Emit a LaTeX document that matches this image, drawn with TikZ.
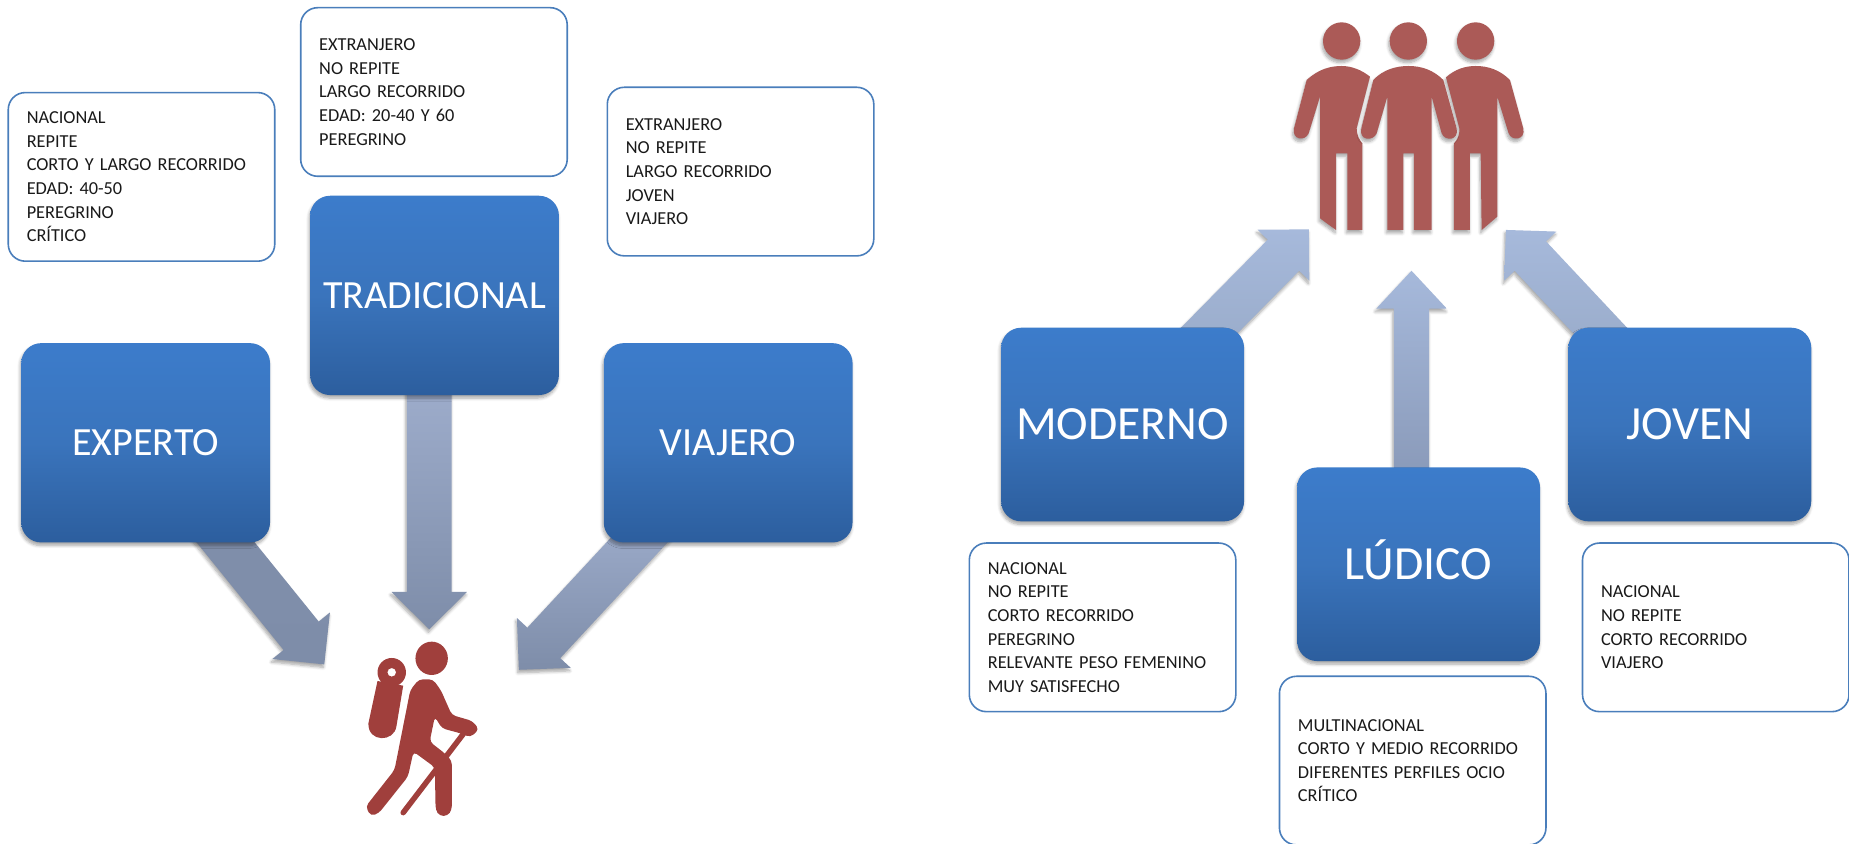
\documentclass[tikz,border=0pt]{standalone}
\usepackage{fontspec}
\setmainfont{Carlito}
\usetikzlibrary{calc,shadows.blur}
\definecolor{bluetop}{HTML}{3C7CCB}
\definecolor{bluemid}{HTML}{3A74BC}
\definecolor{bluebot}{HTML}{2C5E9E}
\definecolor{edgeblue}{HTML}{4A7EBB}
\definecolor{hikerred}{HTML}{A03F3C}
\definecolor{groupred}{HTML}{AB5A57}
\definecolor{slateA}{HTML}{808FAB}
\definecolor{slateB}{HTML}{7E8DA9}
\definecolor{slateC}{HTML}{A0AFCE}
\definecolor{paleA}{HTML}{A6B9DB}
\definecolor{paleB}{HTML}{98AAC8}
\definecolor{paleC}{HTML}{8797B6}
\tikzset{
  softshadow/.style={blur shadow={shadow xshift=-1pt,shadow yshift=-3pt,shadow blur steps=6,shadow blur radius=3pt,shadow opacity=35}},
  bluebox/.style={rounded corners=20pt,top color=bluetop,bottom color=bluebot,middle color=bluemid,text=white,align=center,softshadow,inner sep=0pt,text depth=0pt,font=\fontsize{#1}{#1}\selectfont},
  leftblue/.style={bluebox=40,text height=25.8pt,minimum width=248.8pt,minimum height=199.3pt},
  rightblue/.style={bluebox=47.6,text height=30.6pt,minimum width=242.9pt,minimum height=193.6pt},
  infobox/.style={draw=edgeblue,line width=1.6pt,fill=white,rounded corners=17pt,minimum width=266.5pt,minimum height=168.6pt,text width=229.5pt,align=left,inner xsep=18.5pt,inner ysep=0pt,font=\fontsize{18.3}{23.6}\selectfont,text=black!90},
  blockarrow/.style n args={2}{top color=#1,bottom color=#2,draw=none,softshadow},
  groupfig/.style={fill=groupred,draw=none,softshadow},
}
\newcommand{\blockarrow}[7]{%
  \coordinate (hb) at ($(#2)!#5pt!(#1)$);
  \path[blockarrow={#6}{#7}] ($(#1)!#3pt!90:(#2)$) -- ($(hb)!#3pt!90:(#2)$) -- ($(hb)!#4pt!90:(#2)$) -- (#2) -- ($(hb)!#4pt!-90:(#2)$) -- ($(hb)!#3pt!-90:(#2)$) -- ($(#1)!#3pt!-90:(#2)$) -- cycle;
}
\begin{document}
\begin{tikzpicture}[x=1.17921pt,y=-1.17921pt]
\useasboundingbox (0,0) rectangle (1568,715.7);
% connector ends (start points lie under the boxes)
\coordinate (s1) at (172,436);
\coordinate (t1) at (275,563.4);
\coordinate (s2) at (364,310);
\coordinate (t2) at (364,533.7);
\coordinate (s3) at (561.5,437);
\coordinate (t3) at (440,568);
\coordinate (s4) at (1007,299);
\coordinate (t4) at (1110,194.5);
\coordinate (s5) at (1197,420);
\coordinate (t5) at (1197,229.6);
\coordinate (s6) at (1375.5,300);
\coordinate (t6) at (1277,195);
\blockarrow{s1}{t1}{22.6}{37}{36.8}{slateA}{slateB}
\blockarrow{s2}{t2}{22.4}{37.7}{37.4}{slateC}{slateB}
\blockarrow{s3}{t3}{22.4}{36.7}{36.7}{slateC}{slateB}
\blockarrow{s4}{t4}{22.1}{36.3}{36.3}{paleA}{paleB}
\blockarrow{s5}{t5}{17.7}{35.4}{38}{paleA}{paleC}
\blockarrow{s6}{t6}{21.5}{35.8}{35.8}{paleA}{paleB}
% blue boxes
\node[leftblue] (experto) at (123.5,375.5) {EXPERTO};
\node[leftblue] (tradicional) at (368.5,250.5) {TRADICIONAL};
\node[leftblue] (viajero) at (617.5,375.5) {VIAJERO};
\node[rightblue] (moderno) at (952,360) {MODERNO};
\node[rightblue] (ludico) at (1203,478.5) {LÚDICO};
\node[rightblue] (joven) at (1433,360) {JOVEN};
% info boxes
\node[infobox] (i1) at (120,150) {NACIONAL\\REPITE\\CORTO Y LARGO RECORRIDO\\EDAD: 40-50\\PEREGRINO\\CRÍTICO};
\node[infobox] (i2) at (368,78) {EXTRANJERO\\NO REPITE\\LARGO RECORRIDO\\EDAD: 20-40 Y 60\\PEREGRINO};
\node[infobox] (i3) at (628,145.5) {EXTRANJERO\\NO REPITE\\LARGO RECORRIDO\\JOVEN\\VIAJERO};
\node[infobox] (i4) at (935,532) {NACIONAL\\NO REPITE\\CORTO RECORRIDO\\PEREGRINO\\RELEVANTE PESO FEMENINO\\MUY SATISFECHO};
\node[infobox] (i5) at (1198,645) {MULTINACIONAL\\CORTO Y MEDIO RECORRIDO\\DIFERENTES PERFILES OCIO\\CRÍTICO};
\node[infobox] (i6) at (1455,532) {NACIONAL\\NO REPITE\\CORTO RECORRIDO\\VIAJERO};
% hiker
\begin{scope}[x=.3953pt,y=-.3333pt,shift={(0pt,-520pt)}]
\fill[hikerred] (1092,415) ellipse [x radius=41,y radius=50];
\fill[hikerred,even odd rule] (991,457) circle [x radius=36,y radius=43] (991,457) circle [x radius=11,y radius=13];
\fill[hikerred] (955,483) -- (1020,497) -- (1003,618) .. controls (998,668) and (930,668) .. (932,610) -- cycle;
\fill[hikerred,rounded corners=4pt] (1038,510) -- (1060,478) -- (1095,478) -- (1115,510) -- (1143,585) -- (1195,603) -- (1212,628) -- (1190,652) -- (1165,640) -- (1118,625) -- (1100,590) -- (1087,665) -- (1125,700) -- (1143,722) -- (1143,870) -- (1132,888) -- (1112,888) -- (1102,870) -- (1100,742) -- (1046,695) -- (1032,770) -- (958,880) -- (938,888) -- (925,860) -- (998,750) -- cycle;
\draw[hikerred,line width=5.5pt,line cap=round] (1172,642) -- (1020,878);
\end{scope}
% group
\begin{scope}[x=.3333pt,y=-.3333pt,shift={(1240pt,0pt)}]
\fill[groupfig] (305,123) circle [radius=56];
\fill[groupfig] (505,123) circle [radius=56];
\fill[groupfig] (707,123) circle [radius=56];
\fill[groupfig] (200,240) .. controls (235,208) and (270,198) .. (305,198) .. controls (335,198) and (365,210) .. (390,230) -- (350,385) .. controls (350,405) and (358,420) .. (367,430) -- (367,690) -- (322,690) -- (322,460) -- (288,460) -- (288,690) -- (240,655) -- (240,290) -- (206,400) .. controls (195,425) and (155,420) .. (162,385) -- cycle;
\fill[groupfig] (618,232) .. controls (645,208) and (675,198) .. (707,198) .. controls (745,198) and (780,210) .. (810,240) -- (850,385) .. controls (858,420) and (815,425) .. (806,400) -- (772,290) -- (772,650) -- (725,690) -- (722,460) -- (690,460) -- (690,690) -- (642,690) -- (642,430) .. controls (652,420) and (660,405) .. (658,385) -- cycle;
\fill[groupfig] (400,240) .. controls (430,208) and (470,198) .. (505,198) .. controls (545,198) and (580,210) .. (610,240) -- (650,385) .. controls (658,422) and (615,425) .. (605,400) -- (575,290) -- (575,690) -- (522,690) -- (522,460) -- (490,460) -- (490,690) -- (442,690) -- (442,290) -- (410,400) .. controls (400,425) and (355,422) .. (364,385) -- cycle;
\end{scope}
\end{tikzpicture}
\end{document}
